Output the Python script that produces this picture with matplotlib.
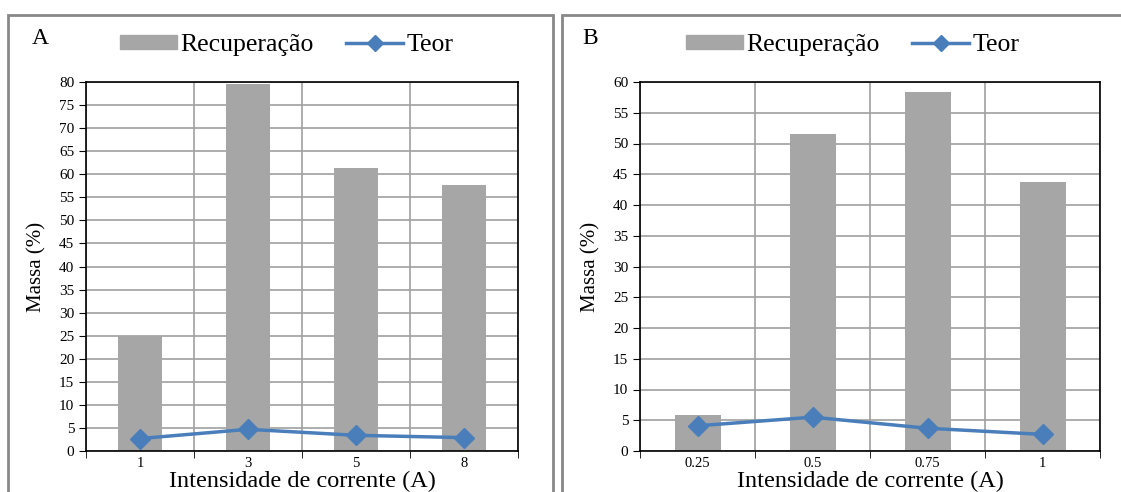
import matplotlib
matplotlib.use('Agg')
import matplotlib.pyplot as plt
from matplotlib.patches import Rectangle
from matplotlib.lines import Line2D
import numpy as np

plt.rcParams['font.family'] = ['Liberation Serif', 'DejaVu Serif']

# Panel A: current intensity 1, 3, 5, 8 A
labels_a = ['1', '3', '5', '8']
recup_a = [25.0, 79.5, 61.3, 57.6]
teor_a = [2.7, 4.7, 3.4, 2.9]

# Panel B: current intensity 0.25 .. 1 A
labels_b = ['0.25', '0.5', '0.75', '1']
recup_b = [5.8, 51.5, 58.4, 43.8]
teor_b = [4.1, 5.5, 3.7, 2.7]

W, H = 1121, 492
fig = plt.figure(figsize=(W / 100, H / 100), dpi=100)

BAR_COLOR = '#a6a6a6'
LINE_COLOR = '#4a7ebb'
GRID_COLOR = '#a0a0a0'


def panel(rect, labels, recup, teor, ymax, letter, letter_xy, leg_xy, frame):
    # gray frame around the panel
    fig.patches.append(Rectangle((frame[0] / W, frame[1] / H), frame[2] / W, frame[3] / H,
                                 transform=fig.transFigure, fill=False,
                                 edgecolor='#888888', linewidth=2))
    ax = fig.add_axes([rect[0] / W, rect[1] / H, rect[2] / W, rect[3] / H])
    x = np.arange(len(labels))
    ax.bar(x, recup, width=0.4, color=BAR_COLOR, zorder=2)
    ax.plot(x, teor, color=LINE_COLOR, linewidth=2.5, marker='D', markersize=10, zorder=3)
    ax.set_xlim(-0.5, len(labels) - 0.5)
    ax.set_ylim(0, ymax)
    ax.set_yticks(np.arange(0, ymax + 1, 5))
    ax.set_xticks(x)
    ax.set_xticklabels(labels)
    ax.set_xticks(np.arange(-0.5, len(labels)), minor=True)
    ax.tick_params(axis='x', which='major', length=0, labelsize=10.5, pad=4)
    ax.tick_params(axis='x', which='minor', length=5, direction='out')
    ax.tick_params(axis='y', length=5, direction='out', labelsize=11)
    ax.grid(True, axis='y', color=GRID_COLOR, linewidth=1.2, zorder=0)
    ax.grid(True, axis='x', which='minor', color=GRID_COLOR, linewidth=1.2, zorder=0)
    ax.set_axisbelow(True)
    for s in ax.spines.values():
        s.set_linewidth(1.2)
    ax.set_xlabel('Intensidade de corrente (A)', fontsize=17.5, labelpad=1)
    ax.set_ylabel('Massa (%)', fontsize=15, labelpad=9)
    fig.text(letter_xy[0] / W, 1 - letter_xy[1] / H, letter, fontsize=17,
             ha='left', va='center')
    handles = [Rectangle((0, 0), 1, 1, color=BAR_COLOR),
               Line2D([], [], color=LINE_COLOR, linewidth=2.5, marker='D', markersize=8)]
    fig.legend(handles, ['Recuperação', 'Teor'], loc='center', ncol=2,
               bbox_to_anchor=(leg_xy[0] / W, 1 - leg_xy[1] / H), frameon=False,
               fontsize=18.5, handlelength=2.2, handleheight=0.5, handletextpad=0.15,
               columnspacing=1.25)
    return ax


panel((86, 41, 432, 369), labels_a, recup_a, teor_a, 80, 'A', (32, 38), (287, 45),
      (8, -10, 545, 487))
panel((640, 41, 460, 369), labels_b, recup_b, teor_b, 60, 'B', (582, 38), (853, 45),
      (562, -10, 570, 487))

fig.savefig('out.png', dpi=100)
